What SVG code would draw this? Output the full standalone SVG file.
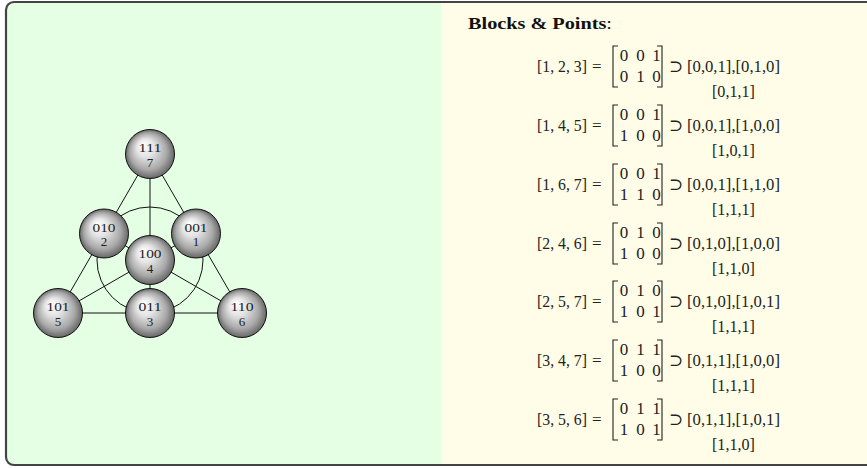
<svg xmlns="http://www.w3.org/2000/svg" width="867" height="468" viewBox="0 0 867 468">
<defs>
<radialGradient id="ball" cx="0.5" cy="0.5" r="0.5" fx="0.36" fy="0.3">
<stop offset="0" stop-color="#ffffff"/>
<stop offset="0.35" stop-color="#e6e6e6"/>
<stop offset="0.75" stop-color="#a8a8a8"/>
<stop offset="1" stop-color="#666666"/>
</radialGradient>
</defs>
<style>
.ball{fill:url(#ball);stroke:#111;stroke-width:1}
.nt{font-family:"Liberation Serif","DejaVu Serif",serif;font-size:13px;fill:#222;text-anchor:middle}
.m{font-family:"Liberation Serif","DejaVu Serif",serif;font-size:17px;fill:#222}
.mc{text-anchor:middle}
.br{fill:none;stroke:#222;stroke-width:1.1}
.edge{fill:none;stroke:#111;stroke-width:1}
.hd{font-family:"Liberation Serif","DejaVu Serif",serif;font-size:16px;fill:#111}
</style>
<!-- panels -->
<rect x="6" y="2" width="880" height="463" rx="8" fill="#fffde7"/>
<path d="M441 2 H14 A8 8 0 0 0 6 10 V457 A8 8 0 0 0 14 465 H441 Z" fill="#e5ffe5"/>
<rect x="6" y="2" width="880" height="463" rx="8" fill="none" stroke="#444" stroke-width="2.2"/>

<g id="connectors">
<line class="edge" x1="150" y1="154" x2="58" y2="313"/>
<line class="edge" x1="150" y1="154" x2="242" y2="313"/>
<line class="edge" x1="58" y1="313" x2="242" y2="313"/>
<line class="edge" x1="150" y1="154" x2="150" y2="313"/>
<line class="edge" x1="58" y1="313" x2="196" y2="233.5"/>
<line class="edge" x1="242" y1="313" x2="104" y2="233.5"/>
<circle class="edge" cx="150" cy="260" r="53"/>
</g>

<g id="n7"><circle class="ball" cx="150" cy="154" r="24.5"/><text class="nt" x="150" y="152" textLength="23" lengthAdjust="spacingAndGlyphs">111</text><text class="nt" x="150" y="166.5">7</text></g>
<g id="n2"><circle class="ball" cx="104" cy="233.5" r="24.5"/><text class="nt" x="104" y="231.5" textLength="23" lengthAdjust="spacingAndGlyphs">010</text><text class="nt" x="104" y="246">2</text></g>
<g id="n1"><circle class="ball" cx="196" cy="233.5" r="24.5"/><text class="nt" x="196" y="231.5" textLength="23" lengthAdjust="spacingAndGlyphs">001</text><text class="nt" x="196" y="246">1</text></g>
<g id="n4"><circle class="ball" cx="150" cy="260" r="24.5"/><text class="nt" x="150" y="258" textLength="23" lengthAdjust="spacingAndGlyphs">100</text><text class="nt" x="150" y="272.5">4</text></g>
<g id="n5"><circle class="ball" cx="58" cy="313" r="24.5"/><text class="nt" x="58" y="311" textLength="23" lengthAdjust="spacingAndGlyphs">101</text><text class="nt" x="58" y="325.5">5</text></g>
<g id="n3"><circle class="ball" cx="150" cy="313" r="24.5"/><text class="nt" x="150" y="311" textLength="23" lengthAdjust="spacingAndGlyphs">011</text><text class="nt" x="150" y="325.5">3</text></g>
<g id="n6"><circle class="ball" cx="242" cy="313" r="24.5"/><text class="nt" x="242" y="311" textLength="23" lengthAdjust="spacingAndGlyphs">110</text><text class="nt" x="242" y="325.5">6</text></g>

<g id="blocks">
<text class="hd" x="468" y="29" textLength="144" lengthAdjust="spacingAndGlyphs"><tspan font-weight="bold">Blocks &amp; Points</tspan>:</text>

<g id="row1">
<text class="m" x="537" y="72" textLength="50" lengthAdjust="spacingAndGlyphs">[1, 2, 3]</text><text class="m" x="592" y="72">=</text>
<path class="br" d="M618 46 H613 V87 H618 M657 46 H662 V87 H657"/>
<text class="m mc" x="624 640.5 656.5" y="61">001</text><text class="m mc" x="624 640.5 656.5" y="82">010</text>
<text class="m" x="669" y="72">⊃</text>
<text class="m mc" x="733.5" y="72" textLength="93" lengthAdjust="spacingAndGlyphs">[0,0,1],[0,1,0]</text>
<text class="m mc" x="733.5" y="97" textLength="43" lengthAdjust="spacingAndGlyphs">[0,1,1]</text>
</g>
<g id="row2">
<text class="m" x="537" y="131" textLength="50" lengthAdjust="spacingAndGlyphs">[1, 4, 5]</text><text class="m" x="592" y="131">=</text>
<path class="br" d="M618 105 H613 V146 H618 M657 105 H662 V146 H657"/>
<text class="m mc" x="624 640.5 656.5" y="120">001</text><text class="m mc" x="624 640.5 656.5" y="141">100</text>
<text class="m" x="669" y="131">⊃</text>
<text class="m mc" x="733.5" y="131" textLength="93" lengthAdjust="spacingAndGlyphs">[0,0,1],[1,0,0]</text>
<text class="m mc" x="733.5" y="156" textLength="43" lengthAdjust="spacingAndGlyphs">[1,0,1]</text>
</g>
<g id="row3">
<text class="m" x="537" y="190" textLength="50" lengthAdjust="spacingAndGlyphs">[1, 6, 7]</text><text class="m" x="592" y="190">=</text>
<path class="br" d="M618 164 H613 V205 H618 M657 164 H662 V205 H657"/>
<text class="m mc" x="624 640.5 656.5" y="179">001</text><text class="m mc" x="624 640.5 656.5" y="200">110</text>
<text class="m" x="669" y="190">⊃</text>
<text class="m mc" x="733.5" y="190" textLength="93" lengthAdjust="spacingAndGlyphs">[0,0,1],[1,1,0]</text>
<text class="m mc" x="733.5" y="215" textLength="43" lengthAdjust="spacingAndGlyphs">[1,1,1]</text>
</g>
<g id="row4">
<text class="m" x="537" y="249" textLength="50" lengthAdjust="spacingAndGlyphs">[2, 4, 6]</text><text class="m" x="592" y="249">=</text>
<path class="br" d="M618 223 H613 V264 H618 M657 223 H662 V264 H657"/>
<text class="m mc" x="624 640.5 656.5" y="238">010</text><text class="m mc" x="624 640.5 656.5" y="259">100</text>
<text class="m" x="669" y="249">⊃</text>
<text class="m mc" x="733.5" y="249" textLength="93" lengthAdjust="spacingAndGlyphs">[0,1,0],[1,0,0]</text>
<text class="m mc" x="733.5" y="274" textLength="43" lengthAdjust="spacingAndGlyphs">[1,1,0]</text>
</g>
<g id="row5">
<text class="m" x="537" y="307" textLength="50" lengthAdjust="spacingAndGlyphs">[2, 5, 7]</text><text class="m" x="592" y="307">=</text>
<path class="br" d="M618 281 H613 V322 H618 M657 281 H662 V322 H657"/>
<text class="m mc" x="624 640.5 656.5" y="296">010</text><text class="m mc" x="624 640.5 656.5" y="317">101</text>
<text class="m" x="669" y="307">⊃</text>
<text class="m mc" x="733.5" y="307" textLength="93" lengthAdjust="spacingAndGlyphs">[0,1,0],[1,0,1]</text>
<text class="m mc" x="733.5" y="332" textLength="43" lengthAdjust="spacingAndGlyphs">[1,1,1]</text>
</g>
<g id="row6">
<text class="m" x="537" y="366" textLength="50" lengthAdjust="spacingAndGlyphs">[3, 4, 7]</text><text class="m" x="592" y="366">=</text>
<path class="br" d="M618 340 H613 V381 H618 M657 340 H662 V381 H657"/>
<text class="m mc" x="624 640.5 656.5" y="355">011</text><text class="m mc" x="624 640.5 656.5" y="376">100</text>
<text class="m" x="669" y="366">⊃</text>
<text class="m mc" x="733.5" y="366" textLength="93" lengthAdjust="spacingAndGlyphs">[0,1,1],[1,0,0]</text>
<text class="m mc" x="733.5" y="391" textLength="43" lengthAdjust="spacingAndGlyphs">[1,1,1]</text>
</g>
<g id="row7">
<text class="m" x="537" y="425" textLength="50" lengthAdjust="spacingAndGlyphs">[3, 5, 6]</text><text class="m" x="592" y="425">=</text>
<path class="br" d="M618 399 H613 V440 H618 M657 399 H662 V440 H657"/>
<text class="m mc" x="624 640.5 656.5" y="414">011</text><text class="m mc" x="624 640.5 656.5" y="435">101</text>
<text class="m" x="669" y="425">⊃</text>
<text class="m mc" x="733.5" y="425" textLength="93" lengthAdjust="spacingAndGlyphs">[0,1,1],[1,0,1]</text>
<text class="m mc" x="733.5" y="450" textLength="43" lengthAdjust="spacingAndGlyphs">[1,1,0]</text>
</g>
</g>
</svg>
